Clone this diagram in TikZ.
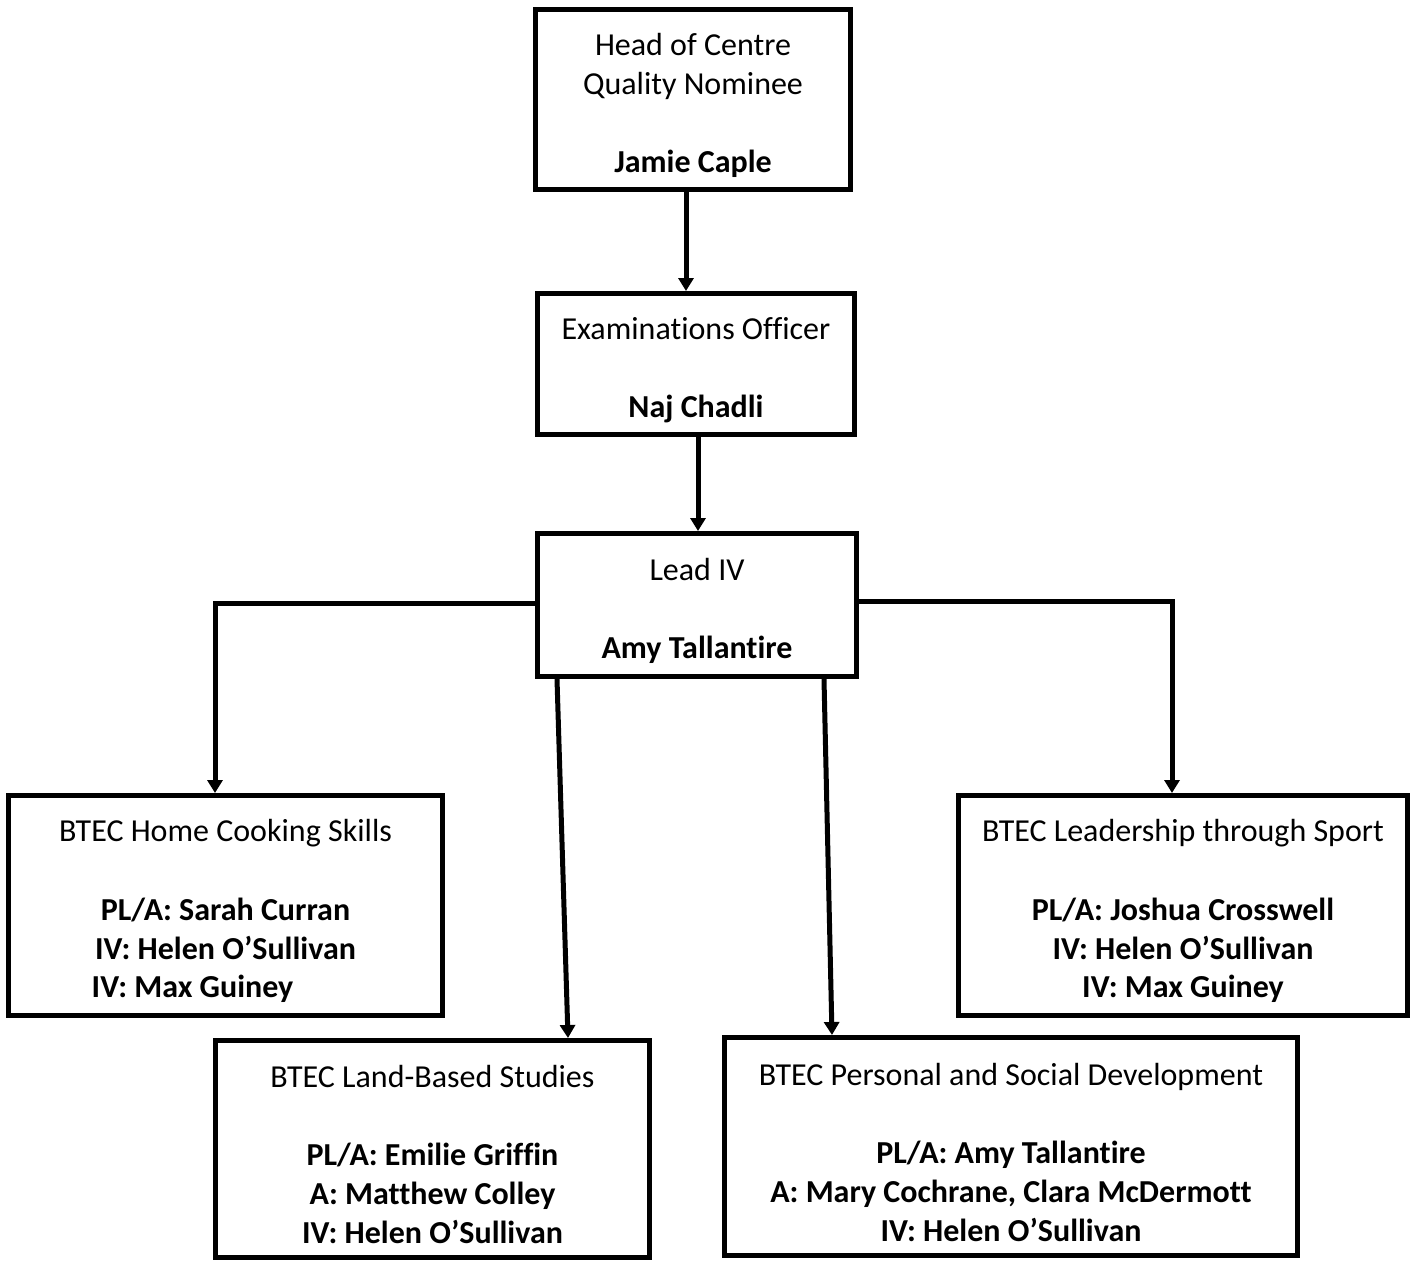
\documentclass[tikz,border=0pt]{standalone}
\usepackage{fontspec}
\setmainfont{Carlito}[Ligatures=NoCommon]
\usepackage{tikz}
\usetikzlibrary{arrows.meta}
\tikzstyle{box} = [draw, line width=2.5pt, inner sep=0pt, align=center, font=\fontsize{16}{19.5}\selectfont]
\tikzstyle{arrow} = [line width=2.5pt, -{Triangle[length=6.5pt,width=7.5pt]}]
\newcommand{\toprule}{\rule{0pt}{17pt}}

\begin{document}
\begin{tikzpicture}[x=0.5pt, y=-0.5pt]
	\useasboundingbox (0,0) rectangle (1415,1260);
	\node[box, minimum width=157.5pt, minimum height=90pt] (head) at (693,99.5) {\toprule Head of Centre\\Quality Nominee\\[19.5pt]\textbf{Jamie Caple}};
	\node[box, minimum width=158.5pt, minimum height=70.5pt] (exam) at (696,364) {\toprule Examinations Officer\\[19.5pt]\textbf{Naj Chadli}};
	\node[box, minimum width=159.5pt, minimum height=71.5pt] (lead) at (697,605) {\toprule Lead IV\\[19.5pt]\textbf{Amy Tallantire}};
	\node[box, minimum width=217pt, minimum height=110pt] (cook) at (225.5,905.5) {\toprule BTEC Home Cooking Skills\\[19.5pt]\textbf{PL/A: Sarah Curran}\\\textbf{IV: Helen O’Sullivan}\\\textbf{IV: Max Guiney}\hspace*{33pt}};
	\node[box, minimum width=224.5pt, minimum height=110pt] (sport) at (1183,905.5) {\toprule BTEC Leadership through Sport\\[19.5pt]\textbf{PL/A: Joshua Crosswell}\\\textbf{IV: Helen O’Sullivan}\\\textbf{IV: Max Guiney}};
	\node[box, minimum width=217pt, minimum height=108.5pt] (land) at (432.5,1149) {\toprule BTEC Land-Based Studies\\[19.5pt]\textbf{PL/A: Emilie Griffin}\\\textbf{A: Matthew Colley}\\\textbf{IV: Helen O’Sullivan}};
	\node[box, minimum width=286.5pt, minimum height=109pt] (psd) at (1011,1146.5) {\toprule BTEC Personal and Social Development\\[19.5pt]\textbf{PL/A: Amy Tallantire}\\\textbf{A: Mary Cochrane, Clara McDermott}\\\textbf{IV: Helen O’Sullivan}};
	\draw[arrow] ([xshift=-3.5pt]head.south) -- ([xshift=-3.5pt]head.south |- exam.north);
	\draw[arrow] ([xshift=1pt]exam.south) -- ([xshift=1pt]exam.south |- lead.north);
	\draw[arrow] ([yshift=1pt]lead.west) -| ([xshift=-5.25pt]cook.north);
	\draw[arrow] ([yshift=2pt]lead.east) -| ([xshift=-5.5pt]sport.north);
	\draw[arrow] ([xshift=-70pt]lead.south) -- ([xshift=67.75pt]land.north);
	\draw[arrow] ([xshift=63.5pt]lead.south) -- ([xshift=-89.5pt]psd.north);
\end{tikzpicture}
\end{document}
